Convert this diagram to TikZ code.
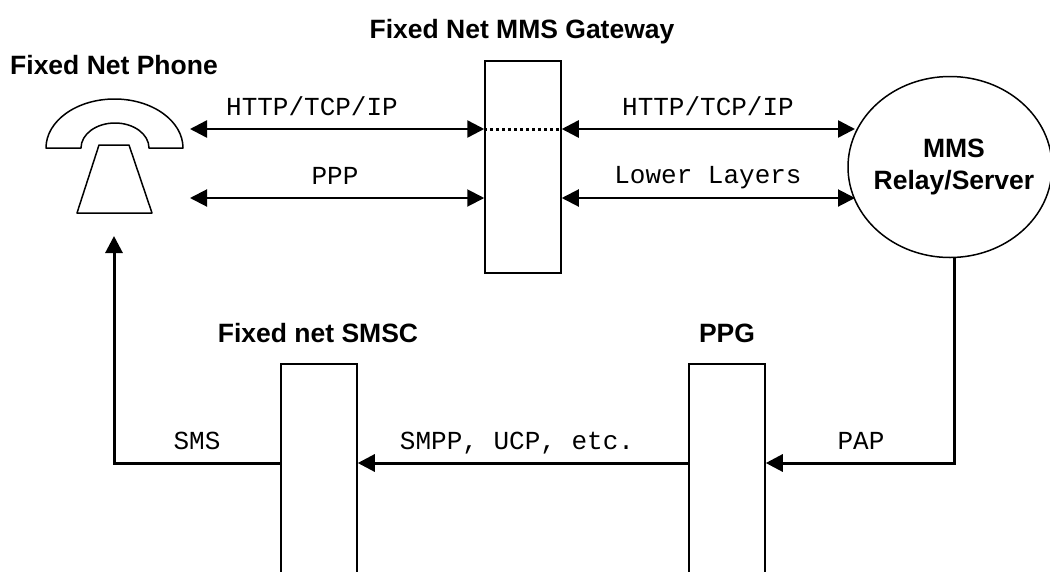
\documentclass[tikz,border=0pt]{standalone}
\usepackage{fontspec}
\setmainfont{Liberation Sans}
\setmonofont{Liberation Mono}
\usetikzlibrary{arrows.meta,shapes.geometric}
\tikzset{%
    box/.style={draw,line width=1.5pt,minimum width=76pt,inner sep=0pt},
    title/.style={font=\bfseries\fontsize{26.5}{32}\selectfont,inner sep=0pt},
    proto/.style={font=\ttfamily\fontsize{26}{30}\selectfont,inner sep=0pt,anchor=base},
    link/.style={line width=3pt,-{Triangle[length=17pt,width=17pt]}},
    duplex/.style={line width=2.5pt,{Triangle[length=17pt,width=17pt]}-{Triangle[length=17pt,width=17pt]}},
}
\begin{document}
\begin{tikzpicture}[x=1pt,y=-1pt]
 \useasboundingbox (0,0) rectangle (1050,571);
 \clip (0,0) rectangle (1050,571);
 % boxes
 \node[box,minimum height=212pt] (gw) at (523,167) {};
 \node[box,minimum height=300pt] (smsc) at (319,514) {};
 \node[box,minimum height=300pt] (ppg) at (727,514) {};
 \node[draw,ellipse,line width=1.5pt,minimum width=204pt,minimum height=181pt,inner sep=0pt] (mms) at (950,167) {};
 \node[title,align=center] (mmstxt) at (954,167) {MMS\\Relay/Server};
 % phone
 \draw[line width=1.5pt,line join=round] (46,148) arc[start angle=180,end angle=0,x radius=68.5pt,y radius=49pt]
  -- (149,148) arc[start angle=0,end angle=180,x radius=34pt,y radius=25pt] -- cycle;
 \draw[line width=1.5pt,line join=round] (99,145) -- (129,145) -- (152,213) -- (77,213) -- cycle;
 \coordinate (ph1) at (190,129);
 \coordinate (ph2) at (190,198);
 \coordinate (ph3) at (114,236);
 \coordinate (mm1) at (855,129);
 \coordinate (mm2) at (855,198);
 \coordinate (low) at (0,463);
 % links
 \draw[duplex] (ph1) -- (ph1 -| gw.west);
 \draw[duplex,line width=2pt] (ph2) -- (ph2 -| gw.west);
 \draw[duplex] (mm1 -| gw.east) -- (mm1);
 \draw[duplex,line width=2pt] (mm2 -| gw.east) -- (mm2);
 \draw[line width=3pt,dash pattern=on 3pt off 3pt] (ph1 -| gw.west) -- (mm1 -| gw.east);
 \draw[link] (low -| smsc.west) -| (ph3);
 \draw[link] (low -| ppg.west) -- (low -| smsc.east);
 \draw[link] (954,258) |- (low -| ppg.east);
 % labels
 \node[title,anchor=base] (tgw) at (522,38) {Fixed Net MMS Gateway};
 \node[title,anchor=base] (tph) at (114,74) {Fixed Net Phone};
 \node[title,anchor=base] (tsm) at (318,342) {Fixed net SMSC};
 \node[title,anchor=base] (tpp) at (727,342) {PPG};
 \foreach \X/\Y/\T in {312/115/HTTP\slash TCP\slash IP,335/184/PPP,708/115/HTTP\slash TCP\slash IP,708/183/Lower Layers,197/449/SMS,517/449/{SMPP, UCP, etc.},861/449/PAP}
 {\node[proto] at (\X,\Y) {\T};}
\end{tikzpicture}
\end{document}
